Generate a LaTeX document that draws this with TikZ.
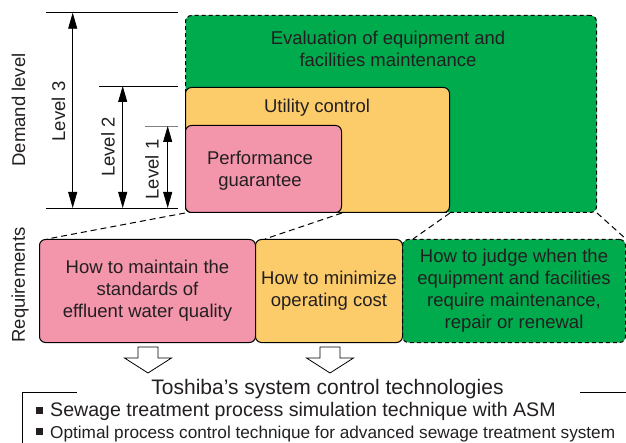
\documentclass[tikz,border=0pt]{standalone}
\usepackage{fontspec}
\setmainfont{Liberation Sans}
\usepackage{tikz}
\usetikzlibrary{arrows.meta}
\definecolor{evalgreen}{RGB}{0,171,78}
\definecolor{utilyellow}{RGB}{253,204,106}
\definecolor{perfpink}{RGB}{243,150,172}
\definecolor{inkgray}{RGB}{35,31,32}
\tikzset{lvlbox/.style={draw, line width=1pt, rounded corners=6pt,
         anchor=north west, inner sep=0pt},
         reqbox/.style={lvlbox, minimum height=103pt, align=center},
         dimline/.style={line width=0.8pt},
         levelarrow/.style={line width=0.8pt, {Triangle[length=16pt,width=9pt]}-{Triangle[length=16pt,width=9pt]}},
         linkline/.style={line width=1pt, dash pattern=on 6pt off 4pt},
         blockarrow/.style={line width=0.8pt, fill=white}}
\newcommand{\bulletsq}{\raisebox{3pt}{\rule{7pt}{7pt}}\hspace{7pt}}

\begin{document}
\begin{tikzpicture}[x=1pt,y=-1pt,
        every node/.style={text=inkgray, font=\fontsize{18.5}{22}\selectfont}]
        \useasboundingbox (0,0) rectangle (626,443);

        % Demand level boxes
        \node[lvlbox, fill=evalgreen, dash pattern=on 4pt off 3pt,
              minimum width=411pt, minimum height=197pt] (lvlC) at (185,15) {};
        \node[lvlbox, fill=utilyellow, minimum width=264pt, minimum height=125pt] (lvlB) at (185,87) {};
        \node[lvlbox, fill=perfpink, minimum width=156pt, minimum height=87pt] (lvlA) at (185,125) {};

        \node[align=center] (txtC) at (388,49) {Evaluation of equipment and\\facilities maintenance};
        \node (txtB) at (317,108) {Utility control};
        \node[align=center] (txtA) at (260,171) {Performance\\guarantee};

        % Level marks
        \draw[dimline] (46,12.7) -- (178,12.7);
        \draw[dimline] (99,86) -- (178,86);
        \draw[dimline, gray] (145,126) -- (178,126);
        \draw[dimline] (46,208) -- (178,208);

        \draw[levelarrow] (72.7,12.7) -- (72.7,208);
        \draw[levelarrow] (122.7,86) -- (122.7,208);
        \draw[levelarrow] (167.7,126) -- (167.7,208);

        \node[rotate=90] (lblL3) at (58.5,111.5) {Level 3};
        \node[rotate=90] (lblL2) at (108,147) {Level 2};
        \node[rotate=90] (lblL1) at (152,169.5) {Level 1};
        \node[rotate=90] (demand) at (18.5,110) {Demand level};
        \node[rotate=90] (require) at (20,285) {Requirements};

        % Requirements
        \node[reqbox, fill=perfpink, minimum width=216pt] (reqA) at (39,239)
            {How to maintain the\\standards of\\effluent water quality};
        \node[reqbox, fill=utilyellow, minimum width=147pt] (reqB) at (255,239)
            {How to minimize\\operating cost};
        \node[reqbox, fill=evalgreen, dash pattern=on 4pt off 3pt, minimum width=223pt] (reqC) at (402,239)
            {How to judge when the\\equipment and facilities\\require maintenance,\\repair or renewal};

        \draw[linkline] (lvlA.south west) -- ([xshift=8pt]reqA.north west);
        \draw[linkline] (lvlA.south east) -- ([xshift=10pt]reqB.north west);
        \draw[linkline] (lvlB.south east) -- ([xshift=11pt]reqC.north west);
        \draw[linkline] (lvlC.south east) -- (reqC.north east);

        % Block arrows
        \coordinate (arrA) at (148,347);
        \coordinate (arrB) at (330,347);
        \draw[blockarrow] (arrA) ++(-10,0) -- ++(20,0) -- ++(0,11) -- ++(13.5,0) -- ++(-23.5,15)
            -- ++(-23.5,-15) -- ++(13.5,0) -- cycle;
        \draw[blockarrow] (arrB) ++(-10,0) -- ++(20,0) -- ++(0,11) -- ++(13.5,0) -- ++(-23.5,15)
            -- ++(-23.5,-15) -- ++(13.5,0) -- cycle;

        % Technologies
        \node[font=\fontsize{21}{24}\selectfont] (techtitle) at (327.5,389) {Toshiba’s system control technologies};
        \draw[dimline] (77,392) -- (22,392) -- (22,445);
        \draw[dimline] (580,392) -- (628,392);

        \node[anchor=base west, inner sep=0pt, font=\fontsize{19.6}{22}\selectfont] (techA) at (36,416.5)
            {\bulletsq Sewage treatment process simulation technique with ASM};
        \node[anchor=base west, inner sep=0pt, font=\fontsize{17.2}{22}\selectfont] (techB) at ([yshift=-21.5pt]techA.base west)
            {\bulletsq Optimal process control technique for advanced sewage treatment system};
\end{tikzpicture}
\end{document}
